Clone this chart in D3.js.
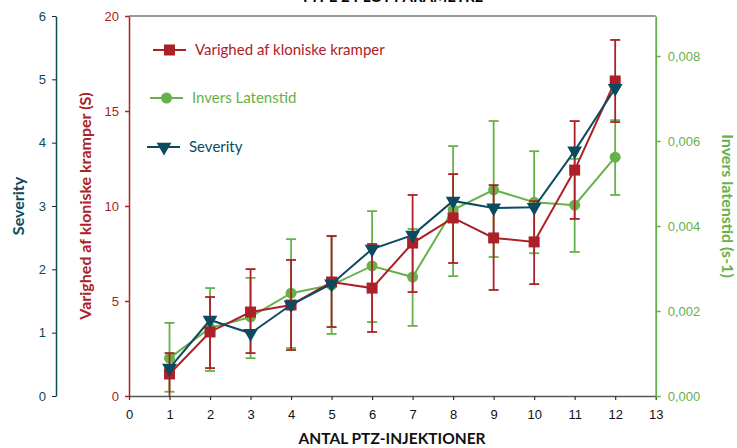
<!DOCTYPE html>
<html>
<head>
<meta charset="utf-8">
<script src="https://cdn.jsdelivr.net/npm/d3@7"></script>
<style>
  body { margin: 0; background: #fff; }
  svg { font-family: Lato, "Open Sans", sans-serif; }
</style>
</head>
<body>
<div id="chart"></div>
<script>
// injections on the x axis
const injections = [1, 2, 3, 4, 5, 6, 7, 8, 9, 10, 11, 12];

// Varighed af kloniske kramper (S) - mean, upper and lower error
const duration = [1.16, 3.37, 4.42, 4.79, 6.0, 5.68, 8.05, 9.37, 8.32, 8.11, 11.89, 16.58];
const durationHigh = [2.26, 5.21, 6.68, 7.16, 8.42, 8.0, 10.58, 11.68, 11.1, 10.26, 14.47, 18.74];
const durationLow = [0.0, 1.47, 2.26, 2.42, 3.63, 3.37, 5.47, 7.0, 5.58, 5.89, 9.32, 14.42];

// Invers latenstid (s-1)
const latency = [0.00089, 0.0016, 0.00186, 0.00242, 0.00261, 0.00306, 0.0028, 0.00438, 0.00485, 0.00456, 0.00449, 0.00562];
const latencyHigh = [0.00172, 0.00254, 0.00278, 0.00369, 0.00376, 0.00435, 0.00393, 0.00588, 0.00647, 0.00576, 0.00558, 0.00649];
const latencyLow = [0.0001, 0.00059, 0.00089, 0.00113, 0.00146, 0.00174, 0.00165, 0.00282, 0.00327, 0.00336, 0.00339, 0.00473];

// Severity
const severity = [0.44, 1.2, 0.99, 1.44, 1.77, 2.32, 2.54, 3.08, 2.97, 2.98, 3.87, 4.86];

const xTicks = d3.range(0, 14);
const redTicks = [0, 5, 10, 15, 20];
const blueTicks = [0, 1, 2, 3, 4, 5, 6];
const greenTicks = [0, 0.002, 0.004, 0.006, 0.008];

const width = 737, height = 448;
const margin = { top: 16, bottom: 52, left: 129, right: 81 };
const red = '#ac2127', green = '#66b14a', blue = '#0c4a60';

const svg = d3.select('#chart').append('svg')
  .attr('width', width)
  .attr('height', height);

const xScale = d3.scaleLinear().domain([0, 13]).range([margin.left, width - margin.right - 0.3]);
const yRed = d3.scaleLinear().domain([0, 20]).range([height - margin.bottom, margin.top]);
const yBlue = d3.scaleLinear().domain([0, 6]).range([height - margin.bottom, margin.top]);
const yGreen = d3.scaleLinear().domain([0, 0.008 * 380 / 340]).range([height - margin.bottom, margin.top]);

const fmtComma = d => d3.format('.3f')(d).replace('.', ',');

// title, cut off at the very top like the source
svg.append('text')
  .attr('x', 392).attr('y', 2)
  .attr('text-anchor', 'middle')
  .style('font-weight', 'bold').style('font-size', '15px')
  .text('TYPE 2 PLOT PARAMETRE');

// top frame
svg.append('line')
  .attr('x1', margin.left).attr('x2', xScale(13))
  .attr('y1', margin.top).attr('y2', margin.top)
  .attr('stroke', '#333').attr('stroke-width', 1.2);

// x axis
const gx = svg.append('g')
  .attr('transform', `translate(0, ${height - margin.bottom})`)
  .call(d3.axisBottom(xScale).tickValues(xTicks).tickSize(4).tickSizeOuter(0));
gx.select('.domain').attr('stroke', '#555').attr('stroke-width', 1.5);
gx.selectAll('.tick line').attr('stroke', '#333').attr('stroke-width', 1.2);
gx.selectAll('.tick text').attr('fill', '#111').style('font-size', '13px').attr('dy', '1.25em');

// blue (severity) axis, far left
const gb = svg.append('g')
  .attr('transform', 'translate(56, 0)')
  .call(d3.axisLeft(yBlue).tickValues(blueTicks).tickFormat(d3.format('d')).tickSize(4).tickSizeOuter(0));
gb.select('.domain').attr('stroke', blue).attr('stroke-width', 1.5);
gb.selectAll('.tick line').attr('stroke', '#222');
gb.selectAll('.tick text').attr('fill', blue).style('font-size', '13px').attr('x', -10);

// red (duration) axis
const gr = svg.append('g')
  .attr('transform', `translate(${margin.left}, 0)`)
  .call(d3.axisLeft(yRed).tickValues(redTicks).tickSize(4).tickSizeOuter(0));
gr.select('.domain').attr('stroke', red).attr('stroke-width', 1.5);
gr.selectAll('.tick line').attr('stroke', red).attr('stroke-width', 1.5);
gr.selectAll('.tick text').attr('fill', red).style('font-size', '13px').attr('x', -10);

// green (latency) axis
const gg = svg.append('g')
  .attr('transform', `translate(${xScale(13)}, 0)`)
  .call(d3.axisRight(yGreen).tickValues(greenTicks).tickFormat(fmtComma).tickSize(5).tickSizeOuter(0));
gg.select('.domain').attr('stroke', green).attr('stroke-width', 1.8);
gg.selectAll('.tick line').attr('stroke', green).attr('stroke-width', 1.5);
gg.selectAll('.tick text').attr('fill', green).style('font-size', '13px').attr('x', 12);

// axis titles
svg.append('text')
  .attr('x', 392).attr('y', 444)
  .attr('text-anchor', 'middle')
  .style('font-weight', 'bold').style('font-size', '15.5px').attr('fill', '#111')
  .text('ANTAL PTZ-INJEKTIONER');

svg.append('text')
  .attr('transform', 'translate(24, 206) rotate(-90)')
  .attr('text-anchor', 'middle')
  .style('font-weight', 'bold').style('font-size', '16px').attr('fill', blue)
  .text('Severity');

svg.append('text')
  .attr('transform', 'translate(91, 206) rotate(-90)')
  .attr('text-anchor', 'middle')
  .style('font-weight', 'bold').style('font-size', '16px').attr('fill', red)
  .text('Varighed af kloniske kramper (S)');

svg.append('text')
  .attr('transform', 'translate(722, 206) rotate(90)')
  .attr('text-anchor', 'middle')
  .style('font-weight', 'bold').style('font-size', '16px').attr('fill', green)
  .text('Invers latenstid (s-1)');

// error bars
function errorBars(lo, hi, yScale, color) {
  const g = svg.append('g').attr('stroke', color).attr('stroke-width', 1.8).attr('fill', 'none');
  injections.forEach((x, i) => {
    const cx = xScale(x);
    g.append('line').attr('x1', cx).attr('x2', cx).attr('y1', yScale(lo[i])).attr('y2', yScale(hi[i]));
    g.append('line').attr('x1', cx - 5).attr('x2', cx + 5).attr('y1', yScale(hi[i])).attr('y2', yScale(hi[i]));
    if (lo[i] > 0) {
      g.append('line').attr('x1', cx - 5).attr('x2', cx + 5).attr('y1', yScale(lo[i])).attr('y2', yScale(lo[i]));
    }
  });
}

function seriesLine(values, yScale, color) {
  const line = d3.line().x((d, i) => xScale(injections[i])).y(d => yScale(d));
  svg.append('path')
    .datum(values)
    .attr('fill', 'none')
    .attr('stroke', color)
    .attr('stroke-width', 2)
    .attr('d', line);
}

const triangle = d3.symbol().type(d3.symbolTriangle).size(95);

// green series
errorBars(latencyLow, latencyHigh, yGreen, green);
seriesLine(latency, yGreen, green);
svg.append('g').selectAll('circle')
  .data(latency).join('circle')
  .attr('cx', (d, i) => xScale(injections[i]))
  .attr('cy', d => yGreen(d))
  .attr('r', 5.5)
  .attr('fill', green);

// red series
errorBars(durationLow, durationHigh, yRed, red);
seriesLine(duration, yRed, red);
svg.append('g').selectAll('rect')
  .data(duration).join('rect')
  .attr('x', (d, i) => xScale(injections[i]) - 5.5)
  .attr('y', d => yRed(d) - 5.5)
  .attr('width', 11).attr('height', 11)
  .attr('fill', red);

// blue series
seriesLine(severity, yBlue, blue);
svg.append('g').selectAll('path')
  .data(severity).join('path')
  .attr('d', triangle)
  .attr('transform', (d, i) => `translate(${xScale(injections[i])}, ${yBlue(d)}) rotate(180)`)
  .attr('fill', blue);

// legend
const legendItems = [
  { name: 'Varighed af kloniske kramper', color: red, mark: 'square', x: 153, y: 50 },
  { name: 'Invers Latenstid', color: green, mark: 'circle', x: 150, y: 98 },
  { name: 'Severity', color: blue, mark: 'triangle', x: 147, y: 147 }
];
const legend = svg.selectAll('.legend')
  .data(legendItems).join('g')
  .attr('class', 'legend')
  .attr('transform', d => `translate(${d.x}, ${d.y})`);
legend.append('line')
  .attr('x1', 0).attr('x2', 33)
  .attr('stroke', d => d.color).attr('stroke-width', 2);
legend.each(function (d) {
  const g = d3.select(this);
  if (d.mark === 'square') {
    g.append('rect').attr('x', 11).attr('y', -5.5).attr('width', 11).attr('height', 11).attr('fill', d.color);
  } else if (d.mark === 'circle') {
    g.append('circle').attr('cx', 16.5).attr('r', 5.5).attr('fill', d.color);
  } else {
    g.append('path').attr('d', triangle).attr('transform', 'translate(17, 0) rotate(180)').attr('fill', d.color);
  }
});
legend.append('text')
  .attr('x', 42).attr('dy', '0.35em')
  .style('font-size', '15px')
  .attr('fill', d => d.color)
  .text(d => d.name);
</script>
</body>
</html>
